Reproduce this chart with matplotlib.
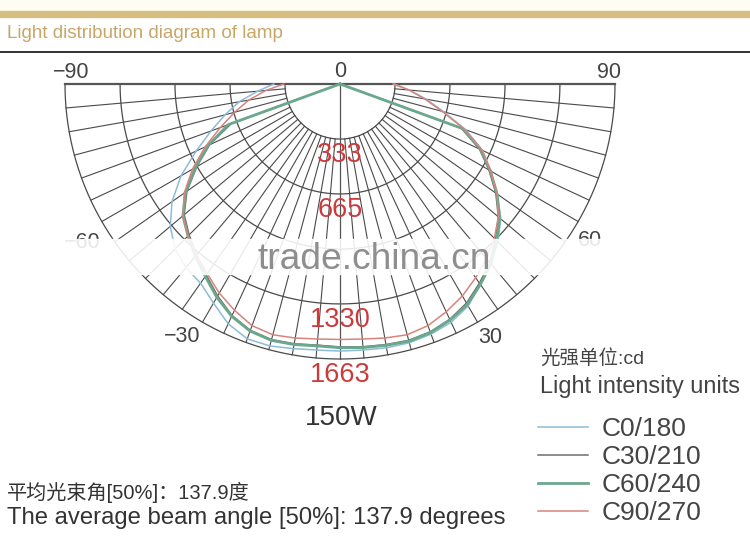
import numpy as np
import matplotlib
matplotlib.use("Agg")
from matplotlib import pyplot as plt
from matplotlib.patches import Rectangle
from matplotlib.lines import Line2D

# 数据：角度（度）与光强（cd）
angles = [-90, -85, -80, -75, -70, -65, -60, -55, -50, -45, -40, -35, -30,
          -25, -20, -15, -10, -5, 0, 5, 10, 15, 20, 25, 30, 35, 40, 45,
          50, 55, 60, 65, 70, 75, 80, 85, 90]
c0_180 = [400, 500, 620, 720, 830, 960, 1110, 1240, 1340, 1410, 1450, 1470, 1530,
          1600, 1640, 1640, 1625, 1615, 1615, 1615, 1620, 1620, 1610, 1590, 1550,
          1480, 1420, 1350, 1270, 1160, 1050, 950, 810, 650, 530, 420, 330]
c30_210 = [0, 0, 0, 0, 700, 870, 1000, 1130, 1230, 1290, 1350, 1410, 1480,
           1545, 1585, 1600, 1595, 1585, 1590, 1595, 1600, 1605, 1595, 1570, 1530,
           1470, 1410, 1330, 1250, 1150, 1040, 930, 780, 0, 0, 0, 0]
c60_240 = [0, 0, 0, 0, 720, 880, 1010, 1140, 1240, 1300, 1360, 1420, 1490,
           1550, 1590, 1605, 1600, 1590, 1595, 1600, 1605, 1610, 1600, 1575, 1540,
           1480, 1420, 1340, 1260, 1160, 1050, 940, 790, 0, 0, 0, 0]
c90_270 = [340, 450, 560, 660, 770, 900, 1030, 1150, 1240, 1300, 1350, 1400, 1460,
           1510, 1555, 1570, 1560, 1548, 1545, 1548, 1560, 1570, 1555, 1520, 1480,
           1430, 1380, 1320, 1250, 1160, 1050, 950, 800, 640, 520, 420, 320]

series_names = ["C0/180", "C30/210", "C60/240", "C90/270"]
series_colors = ["#8dbbd9", "#6e6e6e", "#6aa88c", "#d9837c"]
series_widths = [1.1, 1.1, 2.0, 1.1]

ring_values = [333, 665, 998, 1330, 1663]
ring_labels = [333, 665, 1330, 1663]   # 998 被水印遮住
angle_ticks = [-90, -60, -30, 0, 30, 60, 90]
grid_step = 5

# 角度标签位置（角度, 半径）
angle_label_pos = {-90: (-92.5, 1630), -60: (-58.5, 1830), -30: (-32, 1803),
                   30: (30.7, 1780), 60: (58, 1785), 90: (92.5, 1630)}


def to_xy(deg, r):
    # 0 度朝下，正角度向右
    t = np.radians(np.asarray(deg, dtype=float))
    r = np.asarray(r, dtype=float)
    return r * np.sin(t), -r * np.cos(t)


fig = plt.figure(figsize=(7.5, 5.41), dpi=100)
fig.patch.set_facecolor("white")

# 顶部装饰条
fig.add_artist(Rectangle((0, 1 - 11 / 541), 1, 11 / 541, transform=fig.transFigure,
                         color="#fffdf2", zorder=0))
fig.add_artist(Rectangle((0, 1 - 17 / 541), 1, 6 / 541, transform=fig.transFigure,
                         color="#d6be82", zorder=1))
fig.add_artist(Line2D([0, 1], [1 - 52 / 541, 1 - 52 / 541], transform=fig.transFigure,
                      color="#222222", lw=1.3))
fig.text(7 / 750, 1 - 33 / 541, "Light distribution diagram of lamp", color="#c8a766",
         fontsize=13.6, family="Liberation Sans", va="center", ha="left")

# 配光曲线（半圆）
rmax = ring_values[-1]
ax = fig.add_axes([65 / 750, 1 - 359 / 541, 550 / 750, 275 / 541])
ax.set_xlim(-rmax, rmax)
ax.set_ylim(-rmax, 0)
ax.axis("off")

arc = np.linspace(-90, 90, 361)
for rv in ring_values:
    ax.plot(*to_xy(arc, np.full_like(arc, rv)), color="#4a4a4a", lw=0.9, zorder=2,
            clip_on=False)

for a in range(-90, 91, grid_step):
    if a in (-90, 0, 90):
        ax.plot(*to_xy([a, a], [0, rmax]), color="#555555",
                lw=1.6 if a != 0 else 0.9, zorder=2, clip_on=False)
    else:
        ax.plot(*to_xy([a, a], [ring_values[0], rmax]), color="#4a4a4a", lw=0.8,
                zorder=2, clip_on=False)

for vals, name, col, lw in zip([c0_180, c30_210, c60_240, c90_270],
                               series_names, series_colors, series_widths):
    ax.plot(*to_xy(angles, vals), color=col, lw=lw, label=name, zorder=3, clip_on=False)

# 光强刻度标签
for rv in ring_labels:
    x, y = to_xy(0, rv + 97)
    ax.text(x, y, str(rv), color="#cc3b3b", fontsize=19.5,
            family="Liberation Sans", ha="center", va="center", zorder=4, clip_on=False)

# 角度标签
for a in angle_ticks:
    if a == 0:
        x, y = 0, 75
    else:
        x, y = to_xy(*angle_label_pos[a])
    ax.text(x, y, f"\u2212{abs(a)}" if a < 0 else str(a), color="#444444",
            fontsize=15.5, family="Liberation Sans", ha="center", va="center",
            clip_on=False, zorder=4)

# 水印遮挡带
fig.add_artist(Rectangle((55 / 750, 1 - 274 / 541), 580 / 750, 35 / 541,
                         transform=fig.transFigure, color="white", alpha=0.88, zorder=5))
fig.text(374 / 750, 1 - 259 / 541, "trade.china.cn", color="#8e8e8e", fontsize=26.7,
         family="Liberation Sans", ha="center", va="center", zorder=6)

fig.text(341 / 750, 1 - 418 / 541, "150W", color="#333333", fontsize=20,
         family="Liberation Sans", ha="center", va="center")

# 图例
fig.text(540 / 750, 1 - 359 / 541, "光强单位:cd", color="#444444", fontsize=14,
         family=["Liberation Sans", "Noto Sans CJK SC"], ha="left", va="center")
fig.text(540 / 750, 1 - 387 / 541, "Light intensity units", color="#444444", fontsize=16.9,
         family="Liberation Sans", ha="left", va="center")
handles = [Line2D([], [], color=c, lw=w) for c, w in zip(series_colors, series_widths)]
fig.legend(handles, series_names, loc="upper left",
           bbox_to_anchor=(538 / 750, 1 - 417 / 541), frameon=False,
           prop={"family": "Liberation Sans", "size": 19}, labelcolor="#444444",
           handlelength=1.9, handletextpad=0.5, labelspacing=0.15,
           borderpad=0, borderaxespad=0)

fig.text(7 / 750, 1 - 492 / 541, "平均光束角[50%]：137.9度", color="#333333", fontsize=14.5,
         family=["Liberation Sans", "Noto Sans CJK SC"], ha="left", va="center")
fig.text(7 / 750, 1 - 518 / 541, "The average beam angle [50%]: 137.9 degrees",
         color="#333333", fontsize=17.2, family="Liberation Sans", ha="left", va="center")

plt.savefig("out.png", dpi=100)
